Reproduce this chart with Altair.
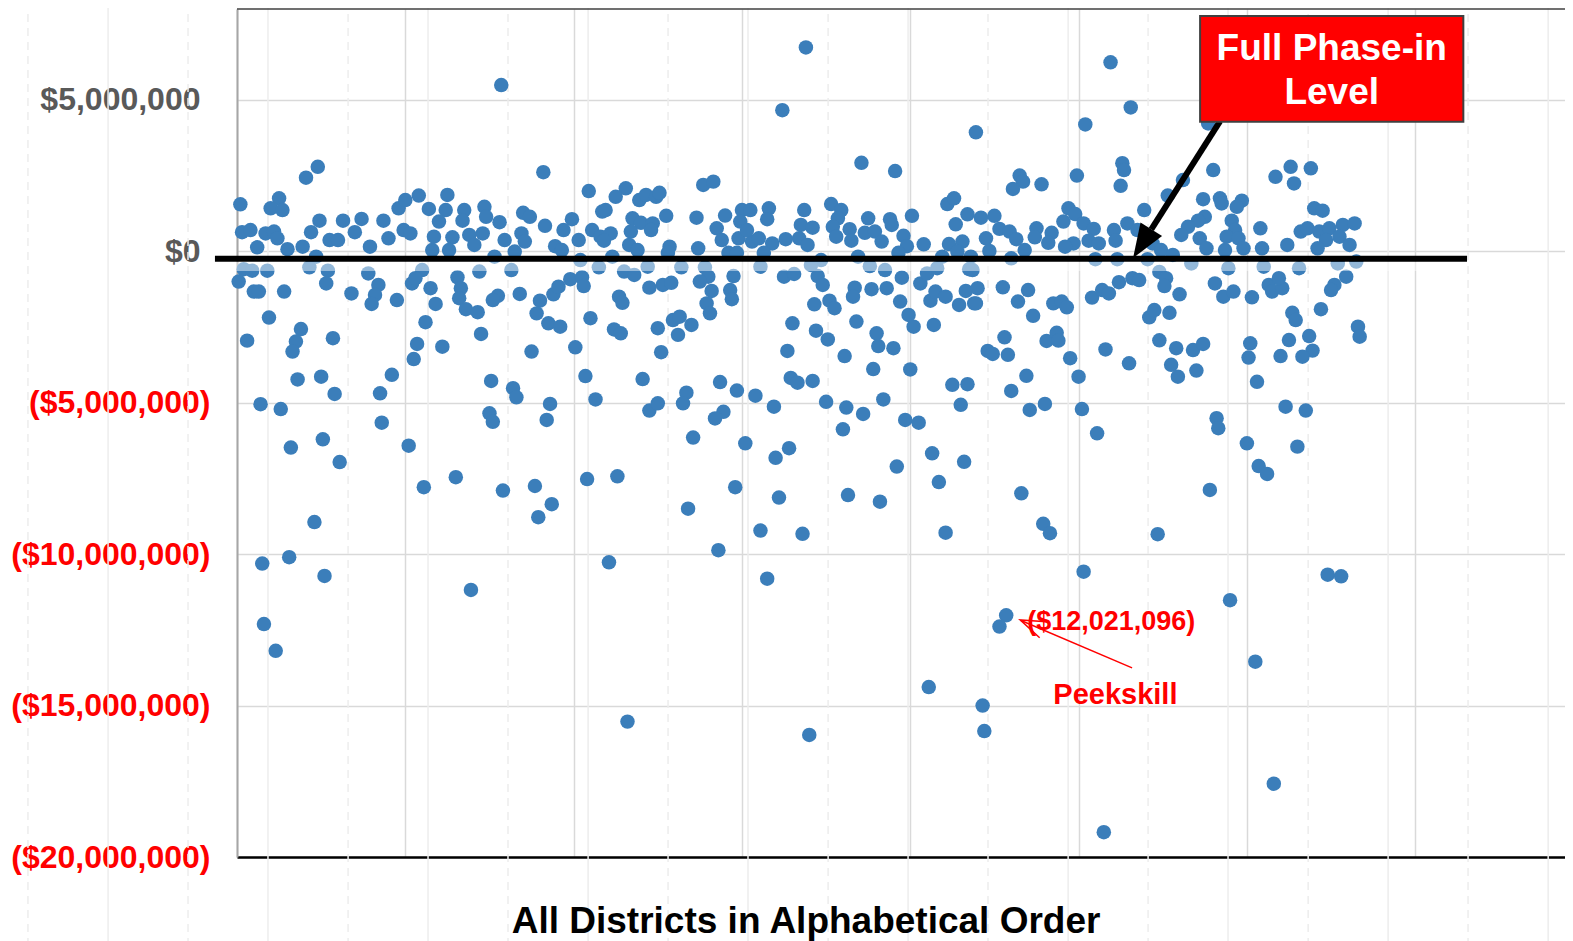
import altair as alt
import pandas as pd

# (district index, funding gap in $ millions)
seg_a = [(48,2.79),(41,2.43),(2,1.55),(25,1.75),(20,1.42),(27,1.36),(49,1.01),(63,1.01),(74,1.07),(87,1.01),(96,1.42),(100,1.69),
(3,0.63),(8,0.70),(17,0.59),(22,0.65),(24,0.43),(12,0.13),(30,0.07),(39,0.15),(44,0.63),(55,0.37),(60,0.37),(70,0.63),(79,0.15),(90,0.43),(99,0.70),(103,0.59),(47,-0.18),
(4,-0.59),(9,-0.64),(18,-0.64),(1,-1.0),(10,-1.33),(13,-1.33),(28,-1.33),(43,-0.53),(54,-0.64),(53,-1.06),(68,-1.39),(78,-0.73),(84,-1.11),(82,-1.44),(80,-1.74),(95,-1.61),(104,-1.06),
(19,-2.19),(38,-2.57),(35,-2.98),(33,-3.31),(6,-2.95),(57,-2.87),(36,-4.23),(50,-4.14),(58,-4.71),(85,-4.69),(92,-4.08),(14,-5.05),(26,-5.21),(86,-5.66),(32,-6.48),(51,-6.21),(102,-6.42),(61,-6.96)]

seg_low_left = [(111,-7.79),(130,-7.46),(158,-7.90),(177,-7.75),(187,-8.35),(179,-8.78),(208,-7.52),(226,-7.43),(268,-8.50),(296,-7.79),(320,-6.82),(322,-8.13),(311,-9.22),(286,-9.87),(46,-8.94),(15,-10.31),(31,-10.10),(52,-10.72),(139,-11.18),(221,-10.27),(315,-10.81),(16,-12.31),(23,-13.19),(232,-15.53)]

seg_low_right = [(413,-6.67),(392,-7.11),(432,-6.95),(363,-8.05),(382,-8.27),(417,-7.62),(466,-7.99),(479,-9.00),(483,-9.31),(336,-9.33),(421,-9.29),(547,-9.34),(578,-7.88),(607,-7.09),(612,-7.35),(503,-10.58),(590,-11.52),(648,-10.68),(656,-10.73),(457,-12.02),(453,-12.39),(605,-13.55),(411,-14.39),(443,-15.0),(444,-15.84),(340,-15.97),(616,-17.58),(515,-19.18)]

seg_high = [(157,5.49),(338,6.73),(324,4.66),(519,6.24),(531,4.75),(504,4.19),(439,3.93),(577,4.22)]

seg_b = [(182,2.61),(209,1.99),(108,1.84),(125,1.86),(114,1.40),(124,1.36),(120,0.98),(135,1.36),(134,1.01),(147,1.47),(148,1.14),(156,0.96),(146,0.59),(138,0.54),(141,0.21),(128,0.46),(117,0.48),(116,0.04),(126,0.04),(159,0.37),(170,1.27),(174,1.14),(183,0.84),(169,0.59),(171,0.32),(165,-0.01),(153,-0.18),(199,1.06),(194,0.70),(203,0.37),(189,0.17),(193,0.04),(217,1.31),(211,0.70),(216,0.48),(204,-0.29),(215,-0.53),
(110,-0.62),(106,-0.89),(144,-0.67),(163,-0.62),(131,-0.86),(133,-1.22),(132,-1.55),(115,-1.22),(118,-1.74),(136,-1.91),(143,-2.01),(155,-1.47),(152,-1.61),(168,-1.41),(180,-1.63),(178,-2.05),(185,-2.38),(192,-2.49),(188,-1.42),(191,-1.17),(198,-0.92),(205,-0.86),(206,-1.15),(210,-2.21),(112,-2.34),(107,-3.06),(105,-3.56),(122,-3.15),(145,-2.73),(175,-3.31),(201,-3.17),(207,-4.12),(151,-4.28),(164,-4.52),(166,-4.82),(186,-5.04),(184,-5.57),(213,-4.89),(150,-5.35),(152,-5.63)]

seg_c = [(277,2.19),(283,2.30),(231,2.08),(225,1.80),(239,1.69),(243,1.86),(249,1.80),(251,1.93),(219,1.36),(235,1.09),(240,0.94),(247,0.92),(246,0.70),(255,1.17),(234,0.65),(233,0.21),(238,0.04),(222,0.59),(218,0.35),(223,-0.18),(257,0.15),(256,-0.05),(273,1.11),(274,0.10),(285,0.76),(288,0.37),(290,1.18),(300,1.36),(305,1.36),(316,1.42),(315,1.06),(299,0.98),(298,0.43),(306,0.32),(310,0.43),(303,0.70),(318,0.26),(326,0.40),(292,-0.05),(297,-0.05),(313,-0.05),
(230,-0.67),(236,-0.78),(244,-0.51),(245,-1.20),(253,-1.11),(258,-1.04),(264,-0.53),(278,-0.53),(280,-0.84),(275,-1.0),(282,-1.31),(279,-1.72),(281,-2.05),(295,-0.82),(293,-1.28),(294,-1.58),(311,-0.51),(325,-0.84),(227,-1.50),(229,-1.70),(224,-2.58),(228,-2.71),(250,-2.54),(259,-2.27),(263,-2.16),(270,-2.43),(262,-2.76),(252,-3.33),(241,-4.22),(245,-5.26),(250,-5.02),(267,-4.67),(265,-5.02),(287,-4.32),(297,-4.60),(308,-4.77),(319,-5.13),(289,-5.30),(284,-5.52),(271,-6.15),(302,-6.34),(328,-6.50),(330,-2.38),(327,-3.29),(329,-4.18)]

seg_d = [(371,2.92),(391,2.65),(337,1.36),(353,1.56),(359,1.36),(357,1.09),(354,0.81),(356,0.48),(335,0.87),(342,0.78),(334,0.43),(339,0.21),(364,0.73),(365,0.35),(373,0.61),(375,1.09),(379,0.65),(383,0.32),(388,1.06),(389,0.87),(396,0.51),(398,0.17),(393,-0.05),(401,1.17),(408,0.23),(422,1.56),(426,1.75),(434,1.22),(427,0.89),(423,0.24),(431,0.32),(428,-0.01),(419,-0.18),(369,-0.18),(347,-0.29),(436,-0.18),
(331,-0.75),(341,-0.45),(345,-0.82),(348,-1.11),(376,-0.49),(385,-0.62),(395,-0.87),(406,-1.06),(410,-0.73),(416,-0.56),(435,-0.59),(367,-1.20),(366,-1.50),(377,-1.25),(386,-1.22),(343,-1.75),(352,-1.63),(355,-1.88),(394,-1.66),(399,-2.10),(402,-2.49),(412,-1.63),(415,-1.33),(421,-1.50),(429,-1.77),(433,-1.31),(438,-1.72),(414,-2.43),(344,-2.62),(351,-2.91),(368,-2.32),(380,-2.71),(381,-3.13),(390,-3.20),(361,-3.46),(378,-3.89),(400,-3.90),(333,-4.34),(342,-4.28),(425,-4.41),(434,-4.39),(350,-4.97),(362,-5.16),(372,-5.37),(384,-4.89),(360,-5.88),(397,-5.57),(405,-5.66),(430,-5.07)]

seg_e = [(499,2.50),(526,2.91),(527,2.68),(525,2.16),(465,2.50),(467,2.30),(461,2.06),(478,2.21),(539,1.36),(442,1.11),(450,1.17),(453,0.74),(445,0.43),(459,0.65),(463,0.40),(447,0.01),(460,-0.23),(475,0.76),(474,0.46),(484,0.61),(482,0.28),(468,0.04),(494,1.42),(498,1.23),(491,0.98),(497,0.26),(492,0.15),(503,0.92),(509,0.74),(506,0.35),(512,0.26),(521,0.70),(522,0.35),(529,0.92),(535,0.70),(510,-0.26),(523,-0.26),(541,-0.26),
(437,-0.62),(440,-1.22),(439,-1.72),(455,-1.19),(464,-1.66),(470,-1.28),(473,-2.13),(485,-1.72),(490,-1.66),(493,-1.85),(508,-1.53),(514,-1.28),(518,-1.39),(524,-1.02),(532,-0.89),(536,-0.95),(548,-0.68),(542,-2.18),(545,-1.94),(456,-2.84),(481,-2.96),(487,-2.69),(488,-2.95),(446,-3.29),(449,-3.39),(458,-3.42),(516,-3.24),(495,-3.53),(530,-3.70),(469,-4.11),(500,-4.14),(460,-4.61),(471,-5.24),(480,-5.04),(502,-5.21),(511,-6.01),(548,-2.94)]

seg_f = [(580,2.68),(562,2.35),(553,1.84),(626,2.79),(617,2.46),(628,2.24),(638,2.74),(574,1.72),(584,1.75),(585,1.58),(597,1.67),(594,1.47),(640,1.42),(645,1.34),(575,1.14),(571,1.01),(565,0.81),(561,0.54),(572,0.43),(576,0.10),(591,1.01),(593,0.70),(588,0.48),(595,0.43),(598,0.10),(587,0.04),(608,0.76),(609,0.10),(624,0.21),(632,0.65),(636,0.76),(643,0.65),(649,0.76),(647,0.37),(642,0.10),(657,0.87),(664,0.92),(655,0.48),(661,0.21),(544,0.26),(549,0.04),(556,-0.12),
(552,-0.89),(551,-1.15),(560,-1.42),(567,-0.40),(589,-0.56),(581,-1.06),(586,-1.50),(592,-1.33),(603,-1.52),(610,-0.51),(613,-1.11),(615,-1.33),(621,-1.22),(619,-0.89),(631,-0.56),(654,-0.40),(659,-0.84),(652,-1.11),(650,-1.28),(665,-0.34),(554,-2.03),(627,-2.03),(629,-2.27),(644,-1.91),(666,-2.49),(667,-2.82),(558,-3.20),(568,-3.26),(574,-3.06),(602,-3.04),(601,-3.51),(625,-2.93),(637,-2.80),(639,-3.28),(633,-3.48),(620,-3.46),(555,-3.75),(559,-4.14),(570,-3.94),(606,-4.31),(623,-5.13),(635,-5.26),(582,-5.51),(583,-5.84),(600,-6.34),(630,-6.45)]

y_ticks = [-20e6, -15e6, -10e6, -5e6, 0, 5e6]
x_grid = [0, 100, 200, 300, 400, 500, 600, 700]
bg_solid = [-76.6, 18.4, 113.5, 208.6, 303.6, 398.7, 493.8, 588.8, 683.9, 779.0]
bg_dashed = [-124.2, -29.1, 66.0, 161.0, 256.1, 351.2, 446.2, 541.3, 636.4, 731.4]

pts = seg_a + seg_low_left + seg_low_right + seg_high + seg_b + seg_c + seg_d + seg_e + seg_f
df = pd.DataFrame({"district": [p[0] for p in pts], "gap": [p[1] * 1e6 for p in pts]})

FONT = "Liberation Sans"
W, H = 1328, 848

x_enc = alt.X("district:Q", scale=alt.Scale(domain=[0, 789], nice=False, zero=False),
              axis=alt.Axis(values=x_grid, grid=True, labels=False, ticks=False, title=None,
                            domain=True, domainColor="#000000", domainWidth=2.5,
                            gridColor="#D9D9D9", gridWidth=1.5))
y_enc = alt.Y("gap:Q", scale=alt.Scale(domain=[-20e6, 8e6], nice=False, zero=False),
              axis=alt.Axis(values=y_ticks, grid=True, ticks=False, title=None,
                            domain=True, domainColor="#A6A6A6", domainWidth=2,
                            gridColor="#D9D9D9", gridWidth=1.5,
                            labelFont=FONT, labelFontSize=32, labelFontWeight="bold",
                            labelLimit=0, labelOverlap=False, labelBound=False,
                            labelPadding={"condition": {"test": "datum.value < 0", "value": 27}, "value": 37},
                            labelExpr="datum.value < 0 ? '($' + format(-datum.value, ',') + ')' : '$' + format(datum.value, ',')",
                            labelColor={"condition": {"test": "datum.value < 0", "value": "#FF0000"}, "value": "#595959"}))

bg1 = alt.Chart(pd.DataFrame({"district": bg_solid})).mark_rule(color="#EDEDED", strokeWidth=1.5).encode(
    x=x_enc, y=alt.value(-9), y2=alt.value(H + 84))
bg2 = alt.Chart(pd.DataFrame({"district": bg_dashed})).mark_rule(color="#EDEDED", strokeWidth=1.5, strokeDash=[8, 6]).encode(
    x=x_enc, y=alt.value(-9), y2=alt.value(H + 84))

points = alt.Chart(df).mark_circle(size=210, color="#3B7EBA", opacity=1).encode(x=x_enc, y=y_enc)

top_border = alt.Chart(pd.DataFrame({"district": [0], "district2": [789], "gap": [8e6]})).mark_rule(
    color="#404040", strokeWidth=1.5).encode(x=x_enc, x2="district2:Q", y=y_enc)

glow = alt.Chart(pd.DataFrame({"district": [-13.1], "district2": [730.8], "gap": [-0.5e6]})).mark_rule(
    color="white", strokeWidth=9, opacity=0.45).encode(x=x_enc, x2="district2:Q", y=y_enc)

phase_line = alt.Chart(pd.DataFrame({"district": [-13.1], "district2": [730.8], "gap": [-0.25e6]})).mark_rule(
    color="black", strokeWidth=6).encode(x=x_enc, x2="district2:Q", y=y_enc)

shaft = alt.Chart(pd.DataFrame({"district": [584.1], "district2": [543.2], "gap": [4.30e6], "gap2": [0.726e6]})).mark_rule(
    color="black", strokeWidth=6).encode(x=x_enc, x2="district2:Q", y=y_enc, y2="gap2:Q")

head = alt.Chart(pd.DataFrame({"district": [537.8], "gap": [0.2526e6]})).mark_point(
    shape="M0,-1L0.75,1L-0.75,1Z", filled=True, size=1156, angle=212.4, color="black", opacity=1, strokeWidth=0
).encode(x=x_enc, y=y_enc)

box = alt.Chart(pd.DataFrame({"district": [572.2], "district2": [728.6], "gap": [7.77e6], "gap2": [4.28e6]})).mark_rect(
    fill="#FF0000", stroke="#404040", strokeWidth=2).encode(x=x_enc, x2="district2:Q", y=y_enc, y2="gap2:Q")

box_text = alt.Chart(pd.DataFrame({"district": [650.4, 650.4], "gap": [6.315e6, 4.863e6],
                                   "label": ["Full Phase-in", "Level"]})).mark_text(
    font=FONT, fontSize=37, fontWeight="bold", color="white", align="center", baseline="alphabetic"
).encode(x=x_enc, y=y_enc, text="label:N")

pk_line = alt.Chart(pd.DataFrame({"district": [531.8], "district2": [465.8], "gap": [-13.757e6], "gap2": [-12.19e6]})).mark_rule(
    color="#FF0000", strokeWidth=1.5).encode(x=x_enc, x2="district2:Q", y=y_enc, y2="gap2:Q")

pk_head = alt.Chart(pd.DataFrame({"district": [472.1], "gap": [-12.334e6]})).mark_point(
    shape="M-0.7,1L0,-1L0.7,1", filled=False, size=625, angle=293.2, color="#FF0000", opacity=1, strokeWidth=1.5
).encode(x=x_enc, y=y_enc)

pk_value = alt.Chart(pd.DataFrame({"district": [469.5], "gap": [-12.5e6], "label": ["($12,021,096)"]})).mark_text(
    font=FONT, fontSize=27, fontWeight="bold", color="#FF0000", align="left", baseline="alphabetic"
).encode(x=x_enc, y=y_enc, text="label:N")

pk_name = alt.Chart(pd.DataFrame({"district": [485.0], "gap": [-14.95e6], "label": ["Peekskill"]})).mark_text(
    font=FONT, fontSize=29, fontWeight="bold", color="#FF0000", align="left", baseline="alphabetic"
).encode(x=x_enc, y=y_enc, text="label:N")

x_title = alt.Chart(pd.DataFrame({"district": [338.1], "gap": [-22.5e6], "label": ["All Districts in Alphabetical Order"]})).mark_text(
    font=FONT, fontSize=37, fontWeight="bold", color="#000000", align="center", baseline="alphabetic"
).encode(x=x_enc, y=y_enc, text="label:N")

chart = alt.layer(bg1, bg2, points, top_border, glow, phase_line, shaft, head, box, box_text,
                  pk_line, pk_head, pk_value, pk_name, x_title).properties(
    width=W, height=H,
    autosize=alt.AutoSizeParams(type="none"),
    padding={"left": 229, "top": 1, "right": 0, "bottom": 84},
    background="white",
).configure_view(stroke=None)

chart.save("out.html", embed_options={"renderer": "svg", "actions": False})
